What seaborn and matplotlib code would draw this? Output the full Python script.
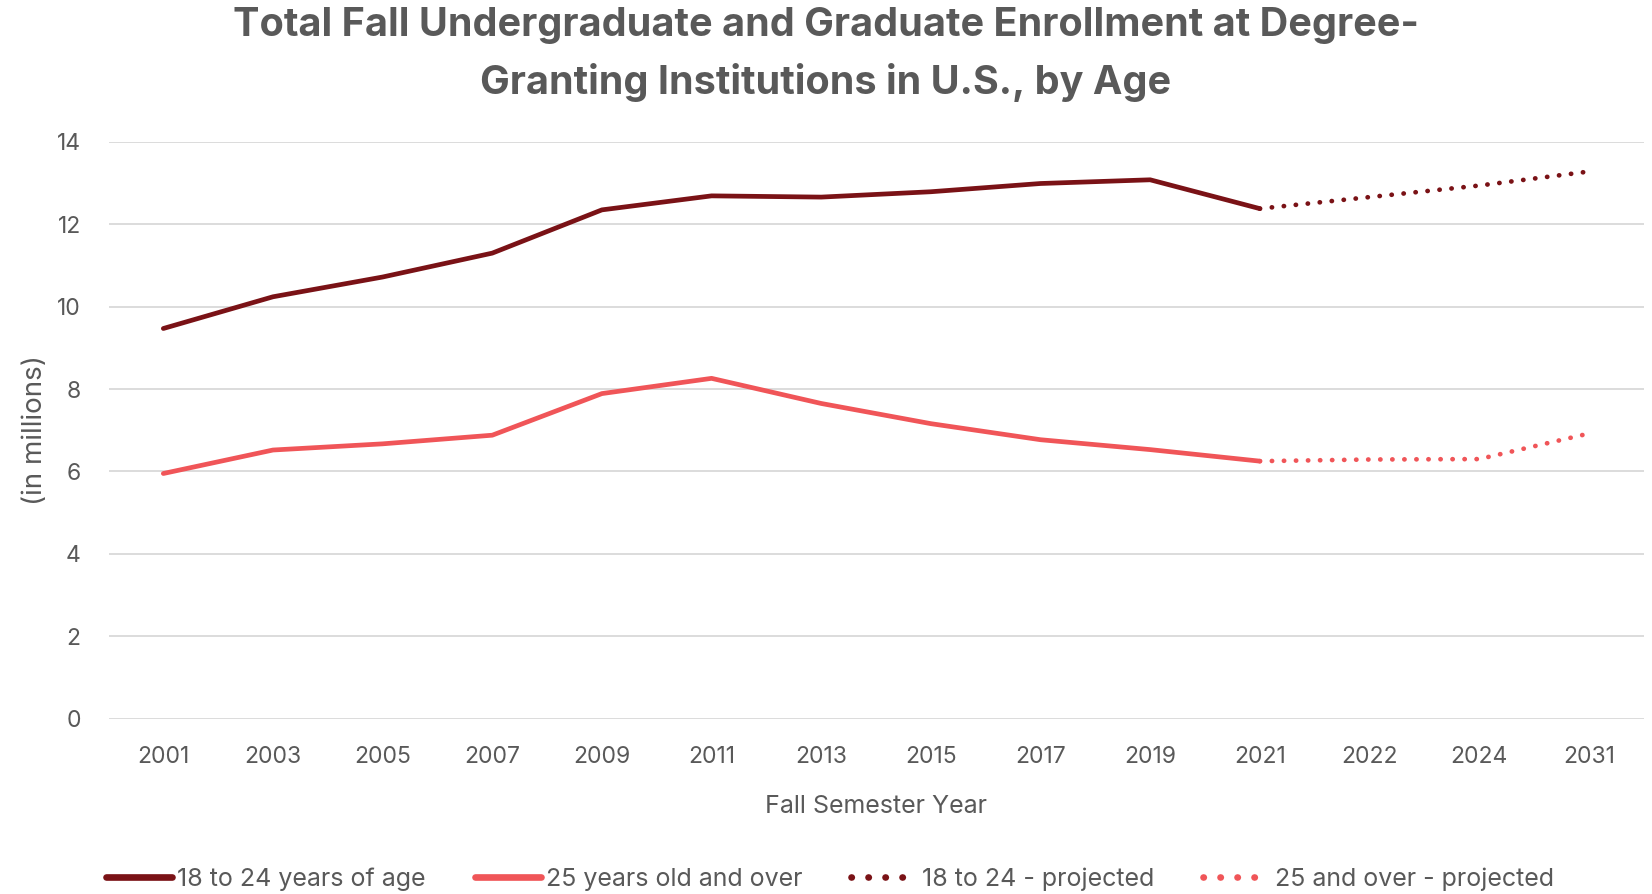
import matplotlib
matplotlib.use("Agg")
import matplotlib.pyplot as plt
import seaborn as sns
import pandas as pd

# Enrollment, in millions
years = ["2001", "2003", "2005", "2007", "2009", "2011", "2013",
         "2015", "2017", "2019", "2021"]
age_18_24 = [9.47, 10.24, 10.72, 11.30, 12.35, 12.69, 12.66,
             12.79, 12.99, 13.08, 12.38]
age_25_over = [5.95, 6.52, 6.67, 6.88, 7.89, 8.26, 7.65,
               7.16, 6.77, 6.53, 6.25]

proj_years = ["2021", "2022", "2024", "2031"]
proj_18_24 = [12.38, 12.66, 12.94, 13.28]
proj_25_over = [6.25, 6.29, 6.30, 6.92]

labels = ["18 to 24 years of age", "25 years old and over",
          "18 to 24 - projected", "25 and over - projected"]

dark_red = "#7A1216"
light_red = "#F05558"
text_grey = "#595959"

sns.set_theme(style="whitegrid")
plt.rcParams["font.family"] = ["Inter", "DejaVu Sans"]

fig = plt.figure(figsize=(16.52, 8.94), dpi=100)
ax = fig.add_axes([108.5 / 1652, 1 - 718.6 / 894, (1643.6 - 108.5) / 1652,
                   (718.6 - 141.9) / 894])

hist = pd.DataFrame({"year": years, "a": age_18_24, "b": age_25_over})
proj = pd.DataFrame({"year": proj_years, "a": proj_18_24, "b": proj_25_over})

lw = 3.4
sns.lineplot(data=hist, x="year", y="a", ax=ax, color=dark_red, lw=lw,
             label=labels[0], sort=False)
sns.lineplot(data=hist, x="year", y="b", ax=ax, color=light_red, lw=lw,
             label=labels[1], sort=False)
sns.lineplot(data=proj, x="year", y="a", ax=ax, color=dark_red, lw=lw,
             label=labels[2], sort=False, dashes=False)
sns.lineplot(data=proj, x="year", y="b", ax=ax, color=light_red, lw=lw,
             label=labels[3], sort=False, dashes=False)

lines = ax.get_lines()
for ln in lines:
    ln.set_solid_capstyle("round")
for ln in lines[2:4]:
    ln.set_linestyle((0, (0.05, 2.5)))
    ln.set_dash_capstyle("round")

ax.set_ylim(0, 14)
ax.set_xlim(-0.5, 13.5)
ax.set_yticks(range(0, 15, 2))
ax.grid(axis="y", color="#D9D9D9", lw=1.3)
ax.grid(axis="x", visible=False)
for s in ax.spines.values():
    s.set_visible(False)
ax.tick_params(axis="both", colors=text_grey, labelsize=16.5, length=0)
ax.tick_params(axis="x", pad=20)
ax.tick_params(axis="y", pad=20)

ax.set_xlabel("Fall Semester Year", color=text_grey, fontsize=18, labelpad=19)
ax.set_ylabel("(in millions)", color=text_grey, fontsize=20, labelpad=6.5)

fig.text(0.5, 1 - 26 / 894,
         "Total Fall Undergraduate and Graduate Enrollment at Degree-",
         ha="center", va="center", fontsize=28.5, fontweight="bold",
         color=text_grey)
fig.text(0.5, 1 - 82 / 894,
         "Granting Institutions in U.S., by Age",
         ha="center", va="center", fontsize=28.5, fontweight="bold",
         color=text_grey)

handles, lbls = ax.get_legend_handles_labels()
leg = ax.legend(handles, lbls, loc="center",
                bbox_to_anchor=(0.47, -0.278), ncol=4, frameon=False,
                fontsize=18, handlelength=2.65, handletextpad=0.2,
                columnspacing=1.95, labelcolor=text_grey)
for h in leg.legend_handles:
    h.set_linewidth(4.8)

fig.savefig("out.png", dpi=100)
